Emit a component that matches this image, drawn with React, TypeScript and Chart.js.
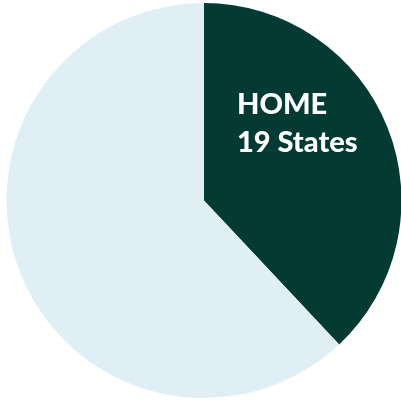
import React, { useEffect, useRef } from "react";
import { Chart, registerables } from "chart.js";

Chart.register(...registerables);

const categories = ["HOME", "Other"];
const values = [19, 31];
const unitLabel = "States";
const colors = ["#033a33", "#e0eef5"];

const labelPlugin = {
  id: "homeLabel",
  afterDatasetsDraw(chart: any) {
    const ctx = chart.ctx;
    ctx.save();
    ctx.fillStyle = "#ffffff";
    ctx.font = "900 29px Lato";
    ctx.textBaseline = "alphabetic";
    ctx.textAlign = "left";
    ctx.fillText(categories[0], 237, 114);
    ctx.fillText(`${values[0]} ${unitLabel}`, 237, 152);
    ctx.restore();
  },
};

export default function App() {
  const ref = useRef<HTMLCanvasElement>(null);
  useEffect(() => {
    document.body.style.margin = "0";
    document.body.style.overflow = "hidden";
    const chart = new Chart(ref.current!, {
      type: "pie",
      data: {
        labels: categories,
        datasets: [
          {
            data: values,
            backgroundColor: colors,
            borderWidth: 0,
          },
        ],
      },
      options: {
        animation: false,
        responsive: false,
        layout: { padding: { left: 6.5, right: 1.5, top: 3, bottom: 5 } },
        plugins: { legend: { display: false }, tooltip: { enabled: false } },
      },
      plugins: [labelPlugin],
    });
    return () => chart.destroy();
  }, []);
  return (
    <div style={{ position: "fixed", left: 0, top: 0, width: 403, height: 403 }}>
      <canvas ref={ref} width={403} height={403} style={{ width: 403, height: 403 }} />
    </div>
  );
}
